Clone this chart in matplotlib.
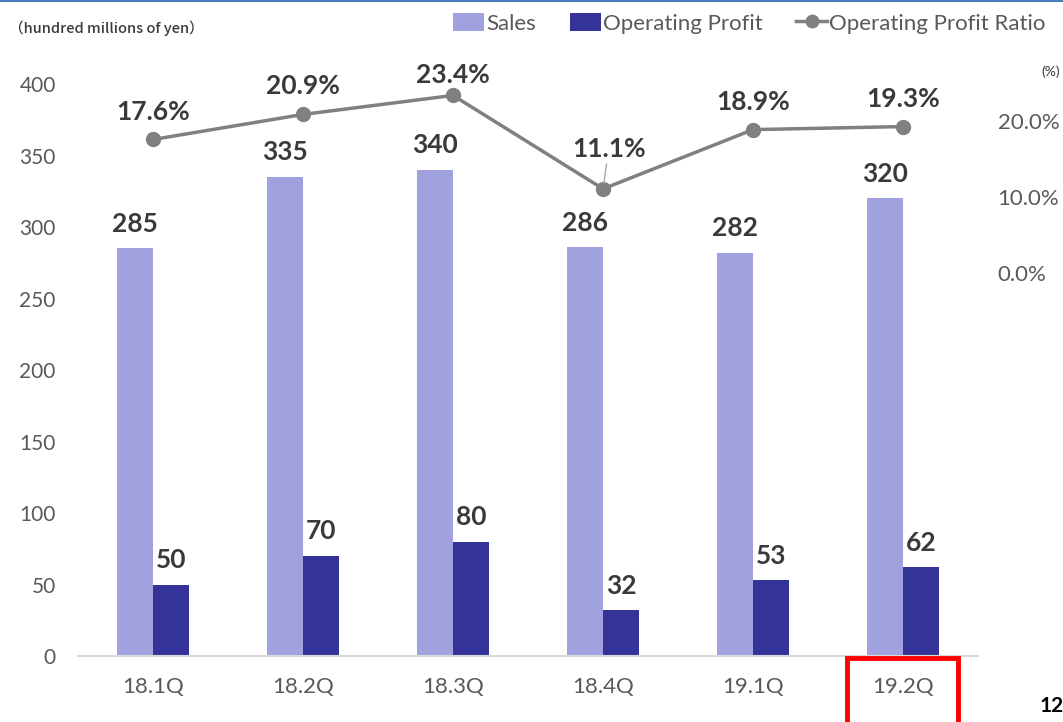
import matplotlib.pyplot as plt
from matplotlib.lines import Line2D
from matplotlib.patches import Patch, Rectangle

quarters = ["18.1Q", "18.2Q", "18.3Q", "18.4Q", "19.1Q", "19.2Q"]
sales = [285, 335, 340, 286, 282, 320]
op_profit = [50, 70, 80, 32, 53, 62]
op_ratio = [17.6, 20.9, 23.4, 11.1, 18.9, 19.3]

# label lift above the ratio markers, in points
ratio_dy = [11, 12, 6, 20, 11, 11]

sales_color = "#a1a1e0"
op_color = "#333399"
line_color = "#808080"
text_color = "#3a3a3a"
tick_color = "#595959"

plt.rcParams["font.family"] = ["Lato", "DejaVu Sans"]

fig = plt.figure(figsize=(10.63, 7.22), dpi=100)
ax = fig.add_axes([0.0734, 0.0914, 0.8467, 0.7922])

x = list(range(len(quarters)))
w = 0.24

ax.bar([i - w / 2 for i in x], sales, width=w, color=sales_color, zorder=2)
ax.bar([i + w / 2 for i in x], op_profit, width=w, color=op_color, zorder=2)

for i in x:
    ax.annotate(str(sales[i]), (i - w / 2, sales[i]), xytext=(0, 9),
                textcoords="offset points", ha="center", va="bottom",
                fontsize=19, fontweight="bold", color=text_color)
    ax.annotate(str(op_profit[i]), (i + w / 2, op_profit[i]), xytext=(0, 9),
                textcoords="offset points", ha="center", va="bottom",
                fontsize=19, fontweight="bold", color=text_color)

ax.set_xlim(-0.5, 5.5)
ax.set_ylim(0, 400)
ax.set_yticks(range(0, 401, 50))
ax.set_xticks(x)
ax.set_xticklabels(quarters)
ax.tick_params(axis="y", length=0, pad=16, labelsize=15, labelcolor=tick_color)
ax.tick_params(axis="x", length=0, pad=15, labelsize=16, labelcolor=tick_color)
for s in ["top", "right", "left"]:
    ax.spines[s].set_visible(False)
ax.spines["bottom"].set_color("#d9d9d9")
ax.spines["bottom"].set_linewidth(1.5)

ax2 = ax.twinx()
ax2.plot(x, op_ratio, color=line_color, linewidth=2.5, marker="o",
         markersize=10, zorder=3)
ax2.set_ylim(-50.4, 24.9)
ax2.set_yticks([0, 10, 20])
ax2.set_yticklabels(["0.0%", "10.0%", "20.0%"])
ax2.tick_params(axis="y", length=0, pad=14, labelsize=16, labelcolor=tick_color)
for s in ax2.spines.values():
    s.set_visible(False)

for i in x:
    if op_ratio[i] < 15:
        ax2.annotate(f"{op_ratio[i]:.1f}%", (i, op_ratio[i]),
                     xytext=(4, ratio_dy[i]), textcoords="offset points",
                     ha="center", va="bottom", fontsize=19, fontweight="bold",
                     color=text_color,
                     arrowprops=dict(arrowstyle="-", color="#a6a6a6", lw=1,
                                     shrinkA=0, shrinkB=4))
    else:
        ax2.annotate(f"{op_ratio[i]:.1f}%", (i, op_ratio[i]),
                     xytext=(0, ratio_dy[i]), textcoords="offset points",
                     ha="center", va="bottom", fontsize=19, fontweight="bold",
                     color=text_color)

handles = [
    Patch(facecolor=sales_color, edgecolor="none"),
    Patch(facecolor=op_color, edgecolor="none"),
    Line2D([0], [0], color=line_color, lw=2.5, marker="o", markersize=9),
]
fig.legend(handles, ["Sales", "Operating Profit", "Operating Profit Ratio"],
           loc="center", bbox_to_anchor=(0.705, 0.968), ncol=3, frameon=False,
           fontsize=16, handlelength=1.4, handleheight=0.9, handletextpad=0.1,
           columnspacing=1.5, labelcolor=tick_color)

fig.text(0.008, 0.961, "（hundred millions of yen）", fontsize=10.5,
         family=["Noto Sans CJK JP", "DejaVu Sans"], fontweight="medium",
         color=text_color, va="center", ha="left")
fig.text(0.997, 0.9, "(%)", fontsize=10, color=text_color, ha="right",
         va="center")

# slide decorations
fig.add_artist(Line2D([0, 1], [0.998, 0.998], color="#4a7ebb", lw=1.5))
fig.add_artist(Rectangle((0.797, -0.01), 0.104, 0.099, fill=False,
                         edgecolor="#ff0000", lw=3.5))
fig.text(0.978, 0.008, "12", fontsize=15, fontweight="bold", color="black",
         ha="left", va="bottom")

fig.savefig("out.png", dpi=100)
